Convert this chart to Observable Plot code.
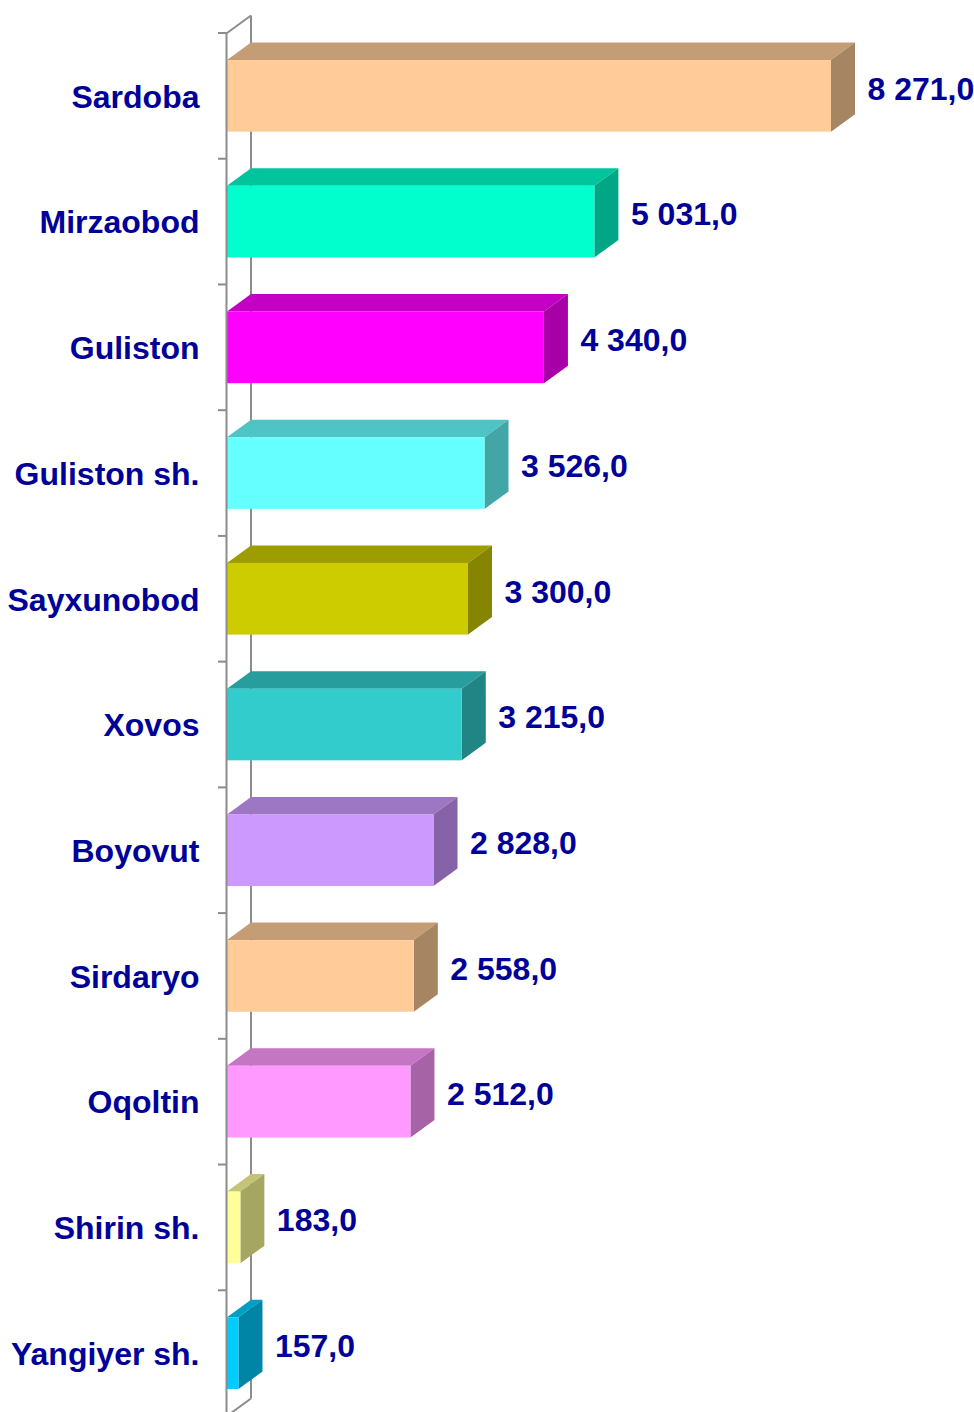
<!DOCTYPE html>
<html><head><meta charset="utf-8">
<script src="https://cdn.jsdelivr.net/npm/d3@7"></script>
<script src="https://cdn.jsdelivr.net/npm/@observablehq/plot@0.6"></script>
<style>body{margin:0;background:#fff} #chart svg{display:block}</style>
</head><body><div id="chart"></div>
<script>
// ---- data ----
const districts = ["Sardoba","Mirzaobod","Guliston","Guliston sh.","Sayxunobod","Xovos","Boyovut","Sirdaryo","Oqoltin","Shirin sh.","Yangiyer sh."];
const values = [8271.0, 5031.0, 4340.0, 3526.0, 3300.0, 3215.0, 2828.0, 2558.0, 2512.0, 183.0, 157.0];
const palette = ["#FFCC99","#00FFCC","#FF00FF","#66FFFF","#CCCC00","#33CCCC","#CC99FF","#FFCC99","#FF99FF","#FFFF99","#00CCFF"];

const data = districts.map((name, i) => ({name, value: values[i], i}));
const fmt = d3.formatLocale({decimal: ",", thousands: " ", grouping: [3]}).format(",.1f");

const DX = 24, DY = 17.5;
const AXIS = "#8c8c8c";
const TEXT = "#000099";
const FONT = "'Liberation Sans', Arial, sans-serif";

function shade(c, k) {
  const r = d3.rgb(c);
  return d3.rgb(r.r * k, r.g * k, r.b * k).formatHex();
}

function bandGeom(y) {
  const y0 = y(districts[0]), y1 = y(districts[1]);
  const step = y1 - y0;
  const bw = typeof y.bandwidth === "function" ? y.bandwidth() : y.bandwidth;
  const gap = (step - bw) / 2;
  const top = y0 - gap;
  const bottom = y(districts[districts.length - 1]) + bw + gap;
  return {step, bw, gap, top, bottom};
}

// back wall line (drawn behind bars)
function backAxis(index, scales) {
  const {x, y} = scales;
  const g = bandGeom(y);
  const x0 = x(0);
  const sel = d3.create("svg:g").attr("stroke", AXIS).attr("stroke-width", 2).attr("fill", "none");
  sel.append("line").attr("x1", x0 + DX).attr("x2", x0 + DX).attr("y1", g.top - DY).attr("y2", g.bottom - DY);
  sel.append("line").attr("x1", x0).attr("x2", x0 + DX).attr("y1", g.top).attr("y2", g.top - DY);
  sel.append("line").attr("x1", x0).attr("x2", x0 + DX).attr("y1", g.bottom).attr("y2", g.bottom - DY);
  return sel.node();
}

// top and side faces of each 3D bar
function faces(index, scales) {
  const {x, y} = scales;
  const g = bandGeom(y);
  const x0 = x(0);
  const sel = d3.create("svg:g");
  for (const d of data) {
    const x1 = x(d.value), yt = y(d.name), yb = yt + g.bw;
    const c = palette[d.i];
    sel.append("polygon")
      .attr("points", [[x0, yt], [x1, yt], [x1 + DX, yt - DY], [x0 + DX, yt - DY]].map(p => p.join(",")).join(" "))
      .attr("fill", shade(c, 0.77));
    sel.append("polygon")
      .attr("points", [[x1, yt], [x1 + DX, yt - DY], [x1 + DX, yb - DY], [x1, yb]].map(p => p.join(",")).join(" "))
      .attr("fill", shade(c, 0.65));
  }
  return sel.node();
}

// front axis line and ticks
function frontAxis(index, scales) {
  const {x, y} = scales;
  const g = bandGeom(y);
  const x0 = x(0);
  const sel = d3.create("svg:g").attr("stroke", AXIS).attr("stroke-width", 2).attr("fill", "none");
  sel.append("line").attr("x1", x0 - 0.5).attr("x2", x0 - 0.5).attr("y1", g.top).attr("y2", g.bottom);
  for (let k = 0; k <= districts.length; k++) {
    const yy = g.top + k * g.step;
    sel.append("line").attr("x1", x0 - 9).attr("x2", x0).attr("y1", yy).attr("y2", yy);
  }
  return sel.node();
}

const chart = Plot.plot({
  width: 974,
  height: 1412,
  margin: 0,
  style: {background: "#fff", fontFamily: FONT},
  x: {domain: [0, d3.max(values)], range: [227, 831], axis: null},
  y: {domain: districts, range: [33, 1416], paddingInner: 0.43, paddingOuter: 0.215, round: false, axis: null},
  color: {domain: districts, range: palette},
  marks: [
    backAxis,
    faces,
    Plot.barX(data, {x: "value", y: "name", fill: "name"}),
    frontAxis,
    Plot.text(data, {x: 0, y: "name", text: "name", textAnchor: "end", dx: -28, dy: 1,
      fontSize: 32, fontWeight: "bold", fill: TEXT, fontFamily: FONT}),
    Plot.text(data, {x: "value", y: "name", text: d => fmt(d.value), textAnchor: "start", dx: DX + 12, dy: -7,
      fontSize: 32, fontWeight: "bold", fill: TEXT, fontFamily: FONT})
  ]
});
document.getElementById("chart").append(chart);
</script>
</body></html>
